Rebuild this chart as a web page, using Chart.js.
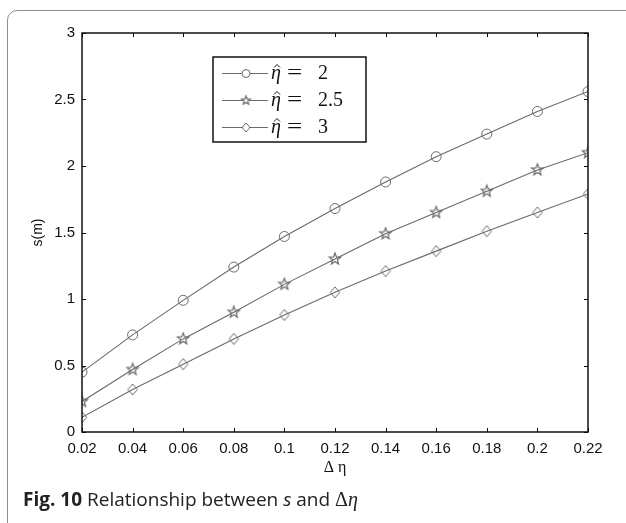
<!DOCTYPE html>
<html lang="en">
<head>
    <meta charset="UTF-8">
    <title>Relationship between s and Δη</title>
    <style>
        body {
            margin: 0;
            padding: 0;
            background: #fff;
            width: 626px;
            height: 523px;
            overflow: hidden;
            position: relative;
        }
        #frame {
            position: absolute;
            left: 7px;
            top: 10px;
            width: 700px;
            height: 600px;
            border: 1.5px solid #8e8e8e;
            border-radius: 10px;
        }
        #chart {
            position: absolute;
            left: 0;
            top: 0;
        }
        #caption {
            position: absolute;
            left: 23px;
            top: 489px;
            font-family: "Open Sans", Lato, sans-serif;
            font-size: 19px;
            line-height: 20px;
            color: #222;
            white-space: nowrap;
        }
        #caption b { font-weight: bold; }
        #caption .m { font-family: "Liberation Serif", serif; font-size: 20px; }
    </style>
</head>
<body>
    <div id="frame"></div>
    <canvas id="chart" width="626" height="523"></canvas>
    <div id="caption"><b>Fig. 10</b> Relationship between <i>s</i> and <span class="m">Δ<i>η</i></span></div>

    <script src="https://cdn.jsdelivr.net/npm/chart.js"></script>
    <script>
        // data
        const deltaEta = [0.02, 0.04, 0.06, 0.08, 0.1, 0.12, 0.14, 0.16, 0.18, 0.2, 0.22];
        const sEta2 = [0.45, 0.73, 0.99, 1.24, 1.47, 1.68, 1.88, 2.07, 2.24, 2.41, 2.56];
        const sEta25 = [0.23, 0.47, 0.70, 0.90, 1.11, 1.30, 1.49, 1.65, 1.81, 1.97, 2.10];
        const sEta3 = [0.11, 0.32, 0.51, 0.70, 0.88, 1.05, 1.21, 1.36, 1.51, 1.65, 1.79];
        const seriesNames = ['2', '2.5', '3'];
        const xTicks = [0.02, 0.04, 0.06, 0.08, 0.1, 0.12, 0.14, 0.16, 0.18, 0.2, 0.22];
        const yTicks = [0, 0.5, 1, 1.5, 2, 2.5, 3];

        const lineColor = '#6a6a6a';

        // matlab-like hollow markers
        function makeStar(r) {
            const c = document.createElement('canvas');
            c.width = c.height = Math.ceil(2 * r + 4);
            const g = c.getContext('2d');
            const cx = c.width / 2, cy = c.height / 2;
            g.beginPath();
            for (let i = 0; i < 10; i++) {
                const rad = i % 2 === 0 ? r : r * 0.42;
                const a = -Math.PI / 2 + i * Math.PI / 5;
                g.lineTo(cx + rad * Math.cos(a), cy + rad * Math.sin(a));
            }
            g.closePath();
            g.strokeStyle = lineColor;
            g.lineWidth = 1.2;
            g.stroke();
            return c;
        }

        function makeDiamond(w, h) {
            const c = document.createElement('canvas');
            c.width = Math.ceil(2 * w + 4);
            c.height = Math.ceil(2 * h + 4);
            const g = c.getContext('2d');
            const cx = c.width / 2, cy = c.height / 2;
            g.beginPath();
            g.moveTo(cx, cy - h);
            g.lineTo(cx + w, cy);
            g.lineTo(cx, cy + h);
            g.lineTo(cx - w, cy);
            g.closePath();
            g.strokeStyle = lineColor;
            g.lineWidth = 1;
            g.stroke();
            return c;
        }

        const starImg = makeStar(6);
        const diamondImg = makeDiamond(4.7, 5.5);
        const starSmall = makeStar(4.5);
        const diamondSmall = makeDiamond(4, 4.5);

        function toPoints(ys) {
            return deltaEta.map((x, i) => ({ x: x, y: ys[i] }));
        }

        function series(ys, style) {
            return {
                data: toPoints(ys),
                borderColor: lineColor,
                borderWidth: 1.1,
                backgroundColor: 'rgba(0,0,0,0)',
                pointBorderColor: lineColor,
                pointBackgroundColor: 'rgba(0,0,0,0)',
                pointBorderWidth: 1,
                pointRadius: 5,
                pointStyle: style,
                tension: 0
            };
        }

        const legendIcons = ['circle', starSmall, diamondSmall];

        // box, inside ticks and legend like the matlab figure
        const matlabBox = {
            id: 'matlabBox',
            afterDraw(chart) {
                const ctx = chart.ctx;
                const a = chart.chartArea;
                const xs = chart.scales.x, ys = chart.scales.y;
                ctx.save();
                ctx.strokeStyle = '#000';
                ctx.lineWidth = 1;
                xTicks.forEach(v => {
                    const px = Math.round(xs.getPixelForValue(v)) + 0.5;
                    ctx.beginPath();
                    ctx.moveTo(px, a.bottom); ctx.lineTo(px, a.bottom - 4);
                    ctx.moveTo(px, a.top); ctx.lineTo(px, a.top + 4);
                    ctx.stroke();
                });
                yTicks.forEach(v => {
                    const py = Math.round(ys.getPixelForValue(v)) + 0.5;
                    ctx.beginPath();
                    ctx.moveTo(a.left, py); ctx.lineTo(a.left + 4, py);
                    ctx.moveTo(a.right, py); ctx.lineTo(a.right - 4, py);
                    ctx.stroke();
                });
                ctx.lineWidth = 1.5;
                ctx.strokeStyle = '#111';
                ctx.strokeRect(a.left, a.top, a.right - a.left, a.bottom - a.top);

                // legend
                const lx = 213, ly = 57, lw = 153, lh = 85;
                ctx.fillStyle = '#fff';
                ctx.fillRect(lx, ly, lw, lh);
                ctx.lineWidth = 1.5;
                ctx.strokeStyle = '#111';
                ctx.strokeRect(lx, ly, lw, lh);
                const rowsY = [73, 100, 127];
                seriesNames.forEach((name, i) => {
                    const y = rowsY[i] + 0.5;
                    ctx.strokeStyle = lineColor;
                    ctx.lineWidth = 1;
                    ctx.beginPath();
                    ctx.moveTo(222, y); ctx.lineTo(268, y);
                    ctx.stroke();
                    const icon = legendIcons[i];
                    if (icon === 'circle') {
                        ctx.beginPath();
                        ctx.arc(246, y, 4, 0, Math.PI * 2);
                        ctx.fillStyle = '#fff';
                        ctx.fill();
                        ctx.stroke();
                    } else {
                        ctx.fillStyle = '#fff';
                        ctx.fillRect(246 - 3, y - 3, 6, 6);
                        ctx.drawImage(icon, 246 - icon.width / 2, y - icon.height / 2);
                    }
                    ctx.fillStyle = '#111';
                    ctx.textBaseline = 'alphabetic';
                    ctx.textAlign = 'left';
                    ctx.font = 'italic 20px "Liberation Serif"';
                    ctx.fillText('η', 271, y + 5);
                    // hat over eta
                    ctx.strokeStyle = '#111';
                    ctx.lineWidth = 1;
                    ctx.beginPath();
                    ctx.moveTo(274, y - 6);
                    ctx.lineTo(277, y - 9);
                    ctx.lineTo(280, y - 6);
                    ctx.stroke();
                    ctx.font = '20px "Liberation Serif"';
                    ctx.save();
                    ctx.translate(287, y + 5);
                    ctx.scale(1.35, 1);
                    ctx.fillText('=', 0, 0);
                    ctx.restore();
                    ctx.fillText(name, 318, y + 5);
                });
                ctx.restore();
            }
        };

        new Chart(document.getElementById('chart'), {
            type: 'line',
            data: {
                datasets: [
                    series(sEta2, 'circle'),
                    series(sEta25, starImg),
                    series(sEta3, diamondImg)
                ]
            },
            options: {
                responsive: false,
                animation: false,
                events: [],
                layout: { padding: { top: 33, right: 38, left: 0, bottom: 0 } },
                plugins: {
                    legend: { display: false },
                    tooltip: { enabled: false }
                },
                scales: {
                    x: {
                        type: 'linear',
                        min: 0.02,
                        max: 0.22,
                        afterBuildTicks: s => { s.ticks = xTicks.map(v => ({ value: v })); },
                        afterFit: s => { s.height = 91; },
                        grid: { display: false, drawTicks: false },
                        border: { display: false },
                        ticks: {
                            padding: 8,
                            color: '#111',
                            maxRotation: 0,
                            autoSkip: false,
                            font: { family: '"Liberation Sans"', size: 15 },
                            callback: v => String(v)
                        },
                        title: {
                            display: true,
                            text: 'Δ η',
                            color: '#111',
                            font: { family: '"Liberation Serif"', size: 16 },
                            padding: { top: 0, bottom: 46 }
                        }
                    },
                    y: {
                        min: 0,
                        max: 3,
                        afterBuildTicks: s => { s.ticks = yTicks.map(v => ({ value: v })); },
                        afterFit: s => { s.width = 82; },
                        grid: { display: false, drawTicks: false },
                        border: { display: false },
                        ticks: {
                            padding: 7,
                            color: '#111',
                            font: { family: '"Liberation Sans"', size: 15 },
                            callback: v => String(v)
                        },
                        title: {
                            display: true,
                            text: 's(m)',
                            color: '#111',
                            font: { family: '"Liberation Sans"', size: 14 },
                            padding: { top: 30, bottom: 0 }
                        }
                    }
                }
            },
            plugins: [matlabBox]
        });
    </script>
</body>
</html>
